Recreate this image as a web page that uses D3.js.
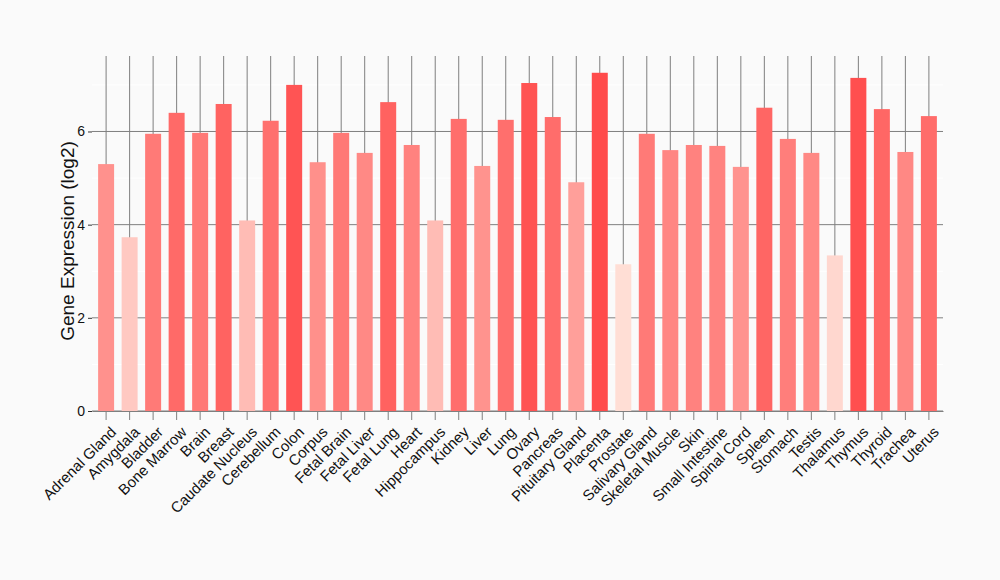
<!DOCTYPE html>
<html>
<head>
<meta charset="utf-8">
<script src="https://cdn.jsdelivr.net/npm/d3@7"></script>
<style>
  body { margin: 0; background: #fafafa; }
  text { font-family: "Liberation Sans", Arial, sans-serif; }
</style>
</head>
<body>
<div id="chart"></div>
<script>
// Tissues and their expression values (log2)
const tissues = ["Adrenal Gland", "Amygdala", "Bladder", "Bone Marrow", "Brain", "Breast",
  "Caudate Nucleus", "Cerebellum", "Colon", "Corpus", "Fetal Brain", "Fetal Liver",
  "Fetal Lung", "Heart", "Hippocampus", "Kidney", "Liver", "Lung", "Ovary", "Pancreas",
  "Pituitary Gland", "Placenta", "Prostate", "Salivary Gland", "Skeletal Muscle", "Skin",
  "Small Intestine", "Spinal Cord", "Spleen", "Stomach", "Testis", "Thalamus", "Thymus",
  "Thyroid", "Trachea", "Uterus"];
const expression = [5.30, 3.73, 5.95, 6.40, 5.97, 6.59, 4.09, 6.23, 7.00, 5.34, 5.97, 5.54,
  6.63, 5.71, 4.09, 6.27, 5.26, 6.25, 7.04, 6.31, 4.91, 7.26, 3.15, 5.95, 5.60, 5.71,
  5.69, 5.24, 6.51, 5.84, 5.54, 3.34, 7.15, 6.48, 5.56, 6.33];
const yTicks = [0, 2, 4, 6];
const yMinor = [1, 3, 5, 7];

const data = tissues.map((t, i) => ({tissue: t, value: expression[i]}));

// Sets the dimensions and margins of the graph
const W = 1000, H = 580;
const margin = {top: 56, right: 57, bottom: 169, left: 92},
    width = W - margin.left - margin.right,
    height = H - margin.top - margin.bottom;

const svg = d3.select("#chart")
  .append("svg")
  .attr("width", W)
  .attr("height", H)
  .style("background", "#fafafa");

const g = svg.append("g")
  .attr("transform", `translate(${margin.left},${margin.top})`);

const x = d3.scaleBand()
  .domain(tissues)
  .range([0, width])
  .paddingInner(0.32)
  .paddingOuter(0.26);

const y = d3.scaleLinear()
  .domain([0, 7.62])
  .range([height, 0]);

const color = d3.scaleLinear()
  .domain([d3.min(expression), d3.max(expression)])
  .range(["#ffded5", "#ff4b4b"]);

// minor gridlines (white)
g.append("g")
  .selectAll("line")
  .data(yMinor)
  .join("line")
    .attr("x1", 0).attr("x2", width)
    .attr("y1", d => y(d)).attr("y2", d => y(d))
    .attr("stroke", "#ffffff")
    .attr("stroke-width", 1);

// major horizontal gridlines
g.append("g")
  .selectAll("line")
  .data(yTicks)
  .join("line")
    .attr("x1", 0).attr("x2", width)
    .attr("y1", d => y(d)).attr("y2", d => y(d))
    .attr("stroke", "#7f7f7f")
    .attr("stroke-width", 1);

// vertical gridlines
g.append("g")
  .selectAll("line")
  .data(tissues)
  .join("line")
    .attr("x1", d => x(d) + x.bandwidth() / 2)
    .attr("x2", d => x(d) + x.bandwidth() / 2)
    .attr("y1", 0).attr("y2", height)
    .attr("stroke", "#7f7f7f")
    .attr("stroke-width", 1);

// bars
g.append("g")
  .selectAll("rect")
  .data(data)
  .join("rect")
    .attr("x", d => x(d.tissue))
    .attr("y", d => y(d.value))
    .attr("width", x.bandwidth())
    .attr("height", d => height - y(d.value))
    .attr("fill", d => color(d.value));

// x axis
const xAxis = g.append("g")
  .attr("transform", `translate(0,${height})`)
  .call(d3.axisBottom(x).tickSizeInner(9).tickSizeOuter(0));
xAxis.select(".domain").attr("stroke", "#7f7f7f");
xAxis.selectAll(".tick line").attr("stroke", "#7f7f7f");
xAxis.selectAll(".tick text")
  .attr("font-size", 15)
  .attr("fill", "#111")
  .attr("text-anchor", "end")
  .attr("dy", 0)
  .attr("y", 0)
  .attr("transform", "translate(11,22) rotate(-45)");

// y axis
const yAxis = g.append("g")
  .call(d3.axisLeft(y).tickValues(yTicks).tickSizeInner(4).tickSizeOuter(0).tickPadding(3));
yAxis.select(".domain").remove();
yAxis.selectAll(".tick line").attr("stroke", "#333");
yAxis.selectAll(".tick text")
  .attr("font-size", 14)
  .attr("fill", "#111");

// y label
svg.append("text")
  .attr("text-anchor", "middle")
  .attr("transform", `translate(74,241) rotate(-90)`)
  .attr("font-size", 19)
  .attr("fill", "#111")
  .text("Gene Expression (log2)");
</script>
</body>
</html>
